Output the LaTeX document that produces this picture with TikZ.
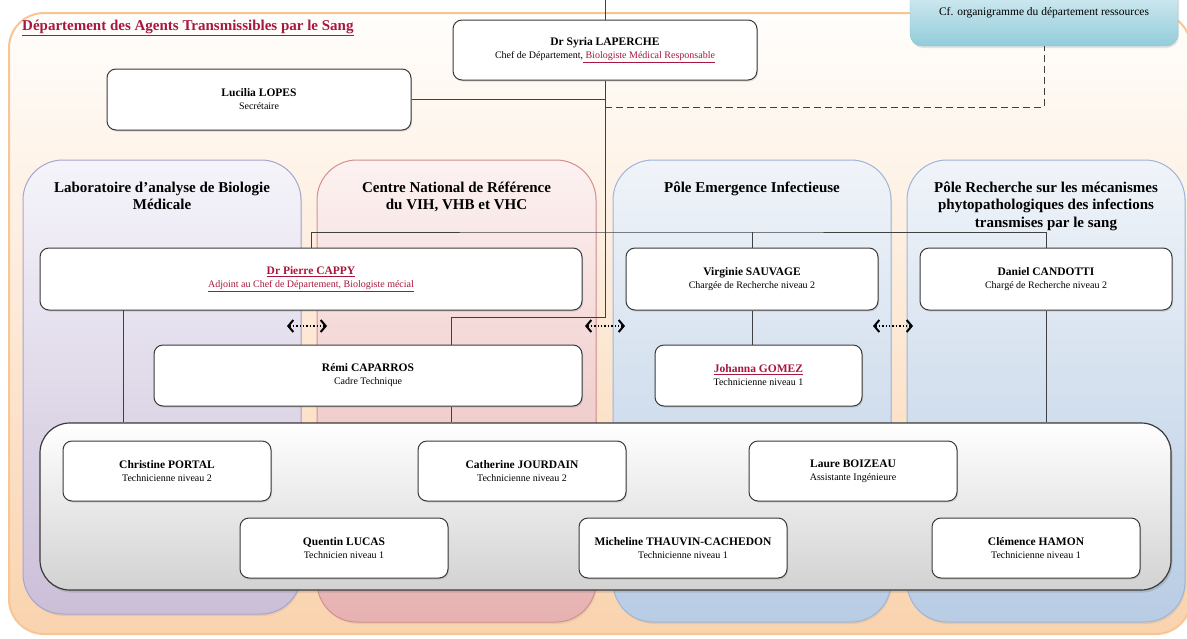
\documentclass[tikz,border=0pt]{standalone}
\usepackage{fontspec}
\setmainfont{Liberation Serif}
\usetikzlibrary{positioning,arrows.meta,shadows}
\definecolor{deptred}{HTML}{A8173D}
\definecolor{boxline}{HTML}{3A3A3A}
\definecolor{linkgrey}{HTML}{404040}
\definecolor{orangeedge}{HTML}{F8C596}
\definecolor{orangetop}{HTML}{FFFEFC}
\definecolor{orangebot}{HTML}{FAD3AE}
\definecolor{lavedge}{HTML}{A9A4CF}
\definecolor{lavtop}{HTML}{F5F4FA}
\definecolor{lavbot}{HTML}{CBBFD8}
\definecolor{rosedge}{HTML}{D68F8F}
\definecolor{rostop}{HTML}{FCF2F1}
\definecolor{rosbot}{HTML}{E6B2B1}
\definecolor{bluedge}{HTML}{9DB5D9}
\definecolor{blutop}{HTML}{F0F4F9}
\definecolor{blubot}{HTML}{B8CCE4}
\definecolor{cyanedge}{HTML}{8CC3D0}
\definecolor{cyantop}{HTML}{E2F2F6}
\definecolor{cyanbot}{HTML}{92CCDA}
\definecolor{greybot}{HTML}{D2D2D2}
\newcommand\who[2]{{\fontsize{11.5}{13}\selectfont\bfseries #1}\\#2}
\newcommand\redul[1]{\textcolor{deptred}{\underline{#1}}}
\tikzset{
  person/.style={draw=boxline,line width=1pt,rounded corners=9pt,fill=white,align=center,
    font=\fontsize{10}{13}\selectfont,drop shadow={opacity=.25,shadow xshift=1pt,shadow yshift=-1.5pt}},
  pole/.style={draw=#1edge,line width=1pt,rounded corners=40pt,top color=#1top,bottom color=#1bot,
    drop shadow={opacity=.15,shadow xshift=1pt,shadow yshift=-2pt}},
  poletitle/.style={align=center,inner sep=0pt,font=\fontsize{15}{17.5}\selectfont\bfseries},
  link/.style={draw=linkgrey,line width=.9pt},
  peer/.style={line width=1.4pt,dash pattern=on 1.4pt off 2pt,
    {Straight Barb[length=5pt,width=12pt,line width=2pt]}-{Straight Barb[length=5pt,width=12pt,line width=2pt]}},
}
\begin{document}
\begin{tikzpicture}[x=1pt,y=-1pt]
\useasboundingbox (0,0) rectangle (1187,638);
\node[draw=orangeedge,line width=2pt,rounded corners=35pt,top color=orangetop,bottom color=orangebot,minimum width=1182pt,minimum height=621pt] (dept) at (600,323.5) {};
\node[anchor=base west,inner sep=0pt,font=\fontsize{15}{18}\selectfont\bfseries,text=deptred] (deptt) at (22,30) {\underline{Département des Agents Transmissibles par le Sang}};
\node[draw=cyanedge,rounded corners=12pt,top color=cyantop,bottom color=cyanbot,minimum width=268pt,minimum height=66pt,font=\fontsize{11.5}{13}\selectfont,drop shadow={opacity=.2,shadow xshift=1pt,shadow yshift=-2pt}] (ressources) at (1044,13) {Cf. organigramme du département ressources};
\node[pole=lav,minimum width=278pt,minimum height=454pt] (lab) at (162,387) {};
\node[pole=ros,minimum width=279pt,minimum height=462pt] (cnr) at (456.5,391) {};
\node[pole=blu,minimum width=278pt,minimum height=462pt] (emer) at (752,391) {};
\node[pole=blu,minimum width=278pt,minimum height=462pt] (rech) at (1046,391) {};
\node[poletitle,below=22pt of lab.north] (labt) {Laboratoire d’analyse de Biologie\\Médicale};
\node[poletitle,below=22pt of cnr.north] (cnrt) {Centre National de Référence\\du VIH, VHB et VHC};
\node[poletitle,below=22pt of emer.north] (emert) {Pôle Emergence Infectieuse};
\node[poletitle,below=22pt of rech.north] (recht) {Pôle Recherche sur les mécanismes\\phytopathologiques des infections\\transmises par le sang};
\node[draw=boxline,line width=1.2pt,rounded corners=30pt,top color=white,bottom color=greybot,minimum width=1131pt,minimum height=167pt,drop shadow={opacity=.3,shadow xshift=1.5pt,shadow yshift=-2.5pt}] (grey) at (605.5,506.5) {};
\node[person,minimum width=304pt,minimum height=60pt] (laperche) at (605,50) {\who{Dr Syria LAPERCHE}{Chef de Département,\redul{ Biologiste Médical Responsable}}};
\node[person,minimum width=304pt,minimum height=61pt] (lopes) at (259,99.5) {\who{Lucilia LOPES}{Secrétaire}};
\node[person,minimum width=542pt,minimum height=62pt] (cappy) at (311,279) {\who{\redul{Dr Pierre CAPPY}}{\redul{Adjoint au Chef de Département, Biologiste mécial}}};
\node[person,minimum width=252pt,minimum height=62pt] (sauvage) at (752,279) {\who{Virginie SAUVAGE}{Chargée de Recherche niveau 2}};
\node[person,minimum width=252pt,minimum height=62pt] (candotti) at (1046,279) {\who{Daniel CANDOTTI}{Chargé de Recherche niveau 2}};
\node[person,minimum width=428pt,minimum height=61pt] (remi) at (368,375.5) {\who{Rémi CAPARROS}{Cadre Technique}};
\node[person,minimum width=207pt,minimum height=61pt] (gomez) at (758.5,375.5) {\who{\redul{Johanna GOMEZ}}{Technicienne niveau 1}};
\node[person,minimum width=208pt,minimum height=60pt] (portal) at (167,471) {\who{Christine PORTAL}{Technicienne niveau 2}};
\node[person,minimum width=208pt,minimum height=60pt] (jourdain) at (522,471) {\who{Catherine JOURDAIN}{Technicienne niveau 2}};
\node[person,minimum width=208pt,minimum height=60pt] (boizeau) at (853,471) {\who{Laure BOIZEAU}{Assistante Ingénieure}};
\node[person,minimum width=208pt,minimum height=60pt] (lucas) at (344,548) {\who{Quentin LUCAS}{Technicien niveau 1}};
\node[person,minimum width=208pt,minimum height=60pt] (thauvin) at (683,548) {\who{Micheline THAUVIN-CACHEDON}{Technicienne niveau 1}};
\node[person,minimum width=208pt,minimum height=60pt] (hamon) at (1036,548) {\who{Clémence HAMON}{Technicienne niveau 1}};
\coordinate (sup) at (605,-4);
\coordinate (rj) at (451,317);
\coordinate (dj) at (605,107);
\coordinate (hl) at (605,232);
\coordinate (labdown) at (123,310);
\draw[link] (sup) -- (laperche.north);
\draw[link] (laperche.south) |- (rj) -- (rj |- remi.north);
\draw[link] (rj |- remi.south) -- (rj |- grey.north);
\draw[link] (lopes.east) -- (lopes.east -| laperche.south);
\draw[link,dash pattern=on 7pt off 4pt] (laperche.south |- dj) -| (ressources.south);
\draw[link] (cappy.north) |- (hl) -| (candotti.north);
\draw[link] (sauvage.north) -- (sauvage.north |- hl);
\draw[link] (sauvage.south) -- (sauvage.south |- gomez.north);
\draw[link] (candotti.south) -- (candotti.south |- grey.north);
\draw[link] (labdown) -- (labdown |- grey.north);
\foreach \x/\n in {307/pa,605/pb,893/pc}{
  \coordinate (\n w) at (\x-20,326);
  \coordinate (\n e) at (\x+20,326);
  \draw[peer] (\n w) -- (\n e);
}
\end{tikzpicture}
\end{document}
